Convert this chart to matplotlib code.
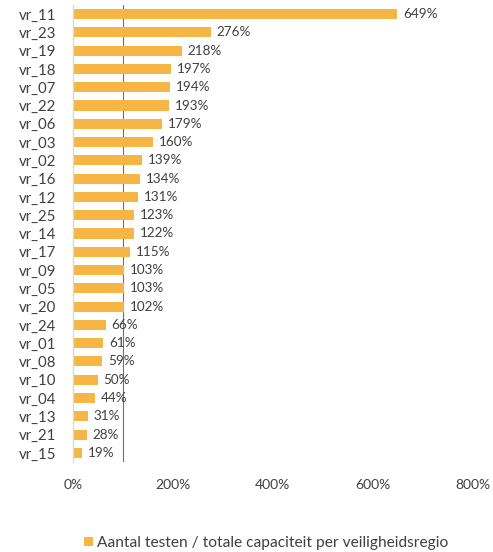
import matplotlib.pyplot as plt
from matplotlib.ticker import FuncFormatter

regions = ["vr_11", "vr_23", "vr_19", "vr_18", "vr_07", "vr_22", "vr_06", "vr_03",
           "vr_02", "vr_16", "vr_12", "vr_25", "vr_14", "vr_17", "vr_09", "vr_05",
           "vr_20", "vr_24", "vr_01", "vr_08", "vr_10", "vr_04", "vr_13", "vr_21", "vr_15"]
values = [649, 276, 218, 197, 194, 193, 179, 160, 139, 134, 131, 123, 122, 115,
          103, 103, 102, 66, 61, 59, 50, 44, 31, 28, 19]
xticks = [0, 200, 400, 600, 800]
legend_label = "Aantal testen / totale capaciteit per veiligheidsregio"

plt.rcParams['font.family'] = ['Lato', 'DejaVu Sans']
bar_color = "#F6B646"
text_color = "#404040"

fig = plt.figure(figsize=(4.93, 5.52), dpi=100)
ax = fig.add_axes([0.148, 0.163, 0.811, 0.828])

y = list(range(len(regions)))
bars = ax.barh(y, values, height=0.55, color=bar_color, label=legend_label, zorder=2)
for yi, v in zip(y, values):
    ax.text(v + 11, yi, f"{v}%", va="center", ha="left", fontsize=9.7, color=text_color, zorder=3)

ax.axvline(100, color="#C0504D", linewidth=0.8, zorder=1)

ax.set_ylim(len(regions) - 0.5, -0.5)
ax.set_xlim(0, 800)
ax.set_yticks(y)
ax.set_yticklabels(regions, fontsize=10.8, color=text_color)
ax.set_xticks(xticks)
ax.xaxis.set_major_formatter(FuncFormatter(lambda v, p: f"{int(v)}%"))
ax.tick_params(axis="x", labelsize=10, labelcolor=text_color, length=0, pad=12)
ax.tick_params(axis="y", length=0, pad=12)

for s in ["top", "right", "bottom"]:
    ax.spines[s].set_visible(False)
ax.spines["left"].set_color("#D9D9D9")
ax.spines["left"].set_linewidth(1)

fig.legend(handles=[bars], labels=[legend_label], loc="center", bbox_to_anchor=(0.54, 0.016),
           frameon=False, fontsize=11.2, handlelength=0.55, handleheight=0.55, handletextpad=0.3,
           labelcolor=text_color)

fig.savefig("out.png", dpi=100)
